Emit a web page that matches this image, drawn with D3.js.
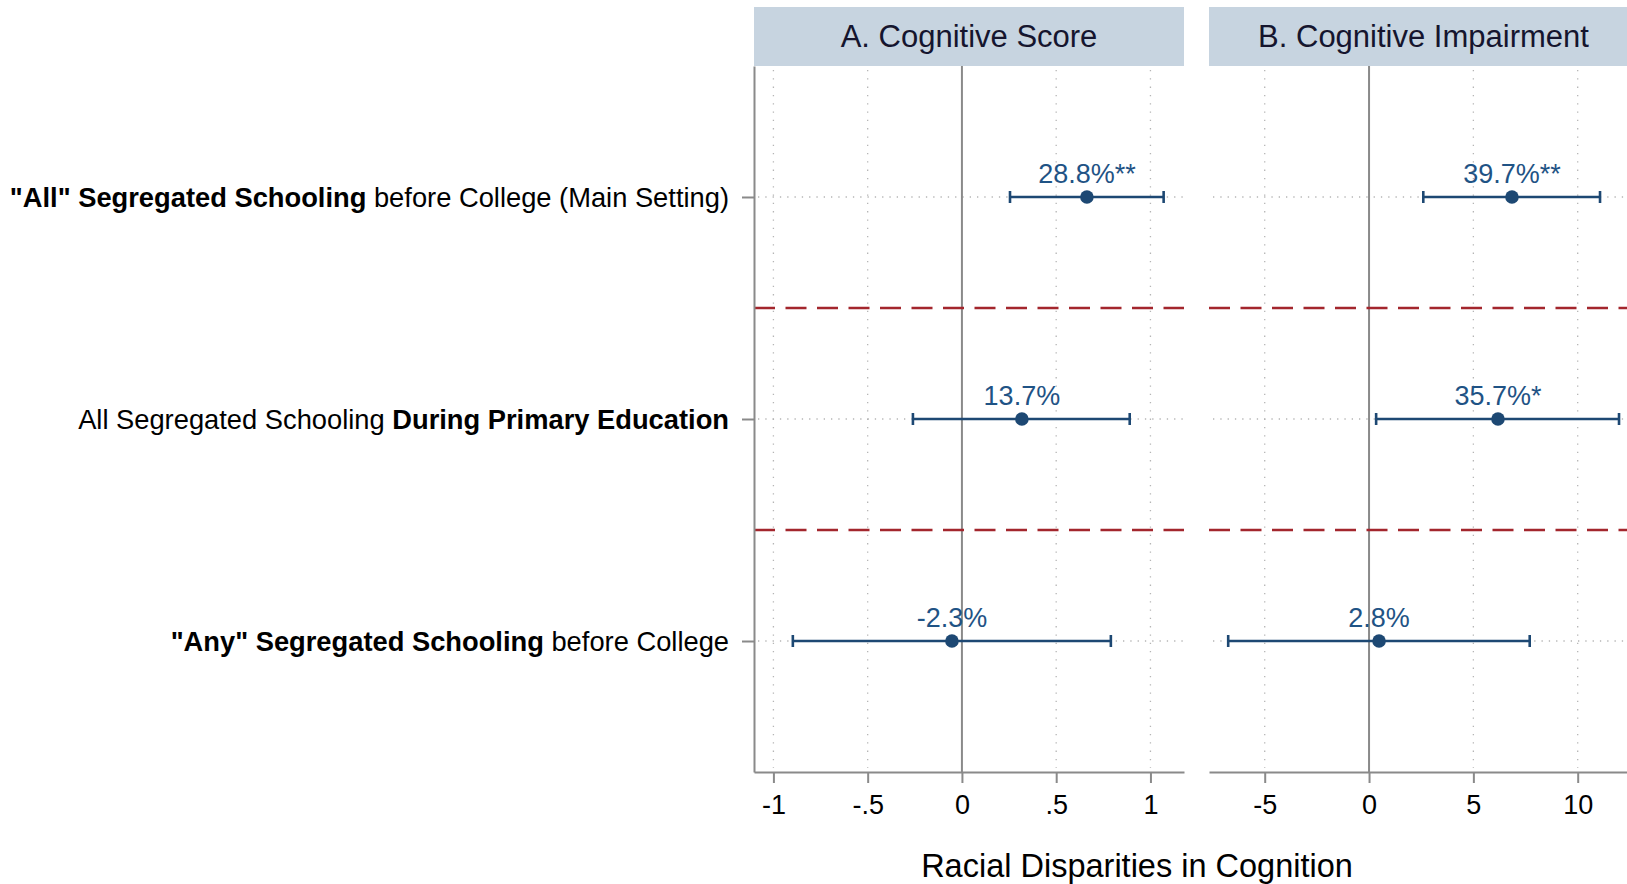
<!DOCTYPE html>
<html>
<head>
<meta charset="utf-8">
<script src="https://cdn.jsdelivr.net/npm/d3@7"></script>
<style>
    body { margin: 0; background: #fff; }
    text { font-family: "Liberation Sans", Arial, sans-serif; }
</style>
</head>
<body>
<div id="chart"></div>
<script>
// row labels, split into bold / regular pieces
const rowLabels = [
    [["\"All\" Segregated Schooling", true], [" before College (Main Setting)", false]],
    [["All Segregated Schooling ", false], ["During Primary Education", true]],
    [["\"Any\" Segregated Schooling", true], [" before College", false]]
];
const rowIndex = [1, 2, 3];

// panel A: cognitive score
const scoreEst = [0.663, 0.318, -0.053];
const scoreLo = [0.255, -0.26, -0.897];
const scoreHi = [1.07, 0.89, 0.79];
const scoreLabels = ["28.8%**", "13.7%", "-2.3%"];
const scoreTicks = [-1, -0.5, 0, 0.5, 1];
const scoreTickLabels = ["-1", "-.5", "0", ".5", "1"];

// panel B: cognitive impairment
const impEst = [6.85, 6.18, 0.48];
const impLo = [2.6, 0.34, -6.75];
const impHi = [11.07, 11.98, 7.7];
const impLabels = ["39.7%**", "35.7%*", "2.8%"];
const impTicks = [-5, 0, 5, 10];
const impTickLabels = ["-5", "0", "5", "10"];

const panelTitles = ["A. Cognitive Score", "B. Cognitive Impairment"];
const xTitle = "Racial Disparities in Cognition";

const width = 1627, height = 884;
const plotTop = 66, plotBottom = 772;
const markColor = "#1d4873";
const axisGray = "#8a8a8a";

const svg = d3.select("#chart").append("svg")
    .attr("width", width)
    .attr("height", height);

const y = d3.scaleLinear().domain([0.41, 3.59]).range([plotTop, plotBottom]);

const panels = [
    {title: panelTitles[0], left: 754, right: 1184, domain: [-1.103, 1.178],
        est: scoreEst, lo: scoreLo, hi: scoreHi, labels: scoreLabels,
        ticks: scoreTicks, tickLabels: scoreTickLabels, leftAxis: true},
    {title: panelTitles[1], left: 1209, right: 1638, domain: [-7.67, 12.89],
        est: impEst, lo: impLo, hi: impHi, labels: impLabels,
        ticks: impTicks, tickLabels: impTickLabels, leftAxis: false}
];

panels.forEach(function (p) {
    const x = d3.scaleLinear().domain(p.domain).range([p.left, p.right]);
    const g = svg.append("g");

    // header strip
    g.append("rect")
        .attr("x", p.left).attr("y", 7)
        .attr("width", p.right - p.left).attr("height", plotTop - 7)
        .attr("fill", "#c7d4e0");
    g.append("text")
        .attr("x", (p.left + p.right) / 2).attr("y", 47)
        .attr("text-anchor", "middle")
        .attr("font-size", 31)
        .attr("fill", "#15152e")
        .text(p.title);

    // vertical dotted grid (not at zero)
    g.selectAll(".vgrid")
        .data(p.ticks.filter(function (d) { return d !== 0; }))
        .enter().append("line")
        .attr("x1", function (d) { return x(d); })
        .attr("x2", function (d) { return x(d); })
        .attr("y1", plotTop + 4).attr("y2", plotBottom - 4)
        .attr("stroke", "#b5b5b5")
        .attr("stroke-width", 1.3)
        .attr("stroke-dasharray", "1.3,7");

    // horizontal dotted grid at each row
    g.selectAll(".hgrid")
        .data(rowIndex)
        .enter().append("line")
        .attr("x1", p.left + 4).attr("x2", p.right)
        .attr("y1", function (d) { return y(d); })
        .attr("y2", function (d) { return y(d); })
        .attr("stroke", "#b5b5b5")
        .attr("stroke-width", 1.3)
        .attr("stroke-dasharray", "1.3,6");

    // zero line
    g.append("line")
        .attr("x1", x(0)).attr("x2", x(0))
        .attr("y1", plotTop).attr("y2", plotBottom)
        .attr("stroke", axisGray)
        .attr("stroke-width", 2);

    // red dashed separators between rows
    g.selectAll(".sep")
        .data([1.5, 2.5])
        .enter().append("line")
        .attr("x1", p.left).attr("x2", p.right)
        .attr("y1", function (d) { return y(d); })
        .attr("y2", function (d) { return y(d); })
        .attr("stroke", "#a3262d")
        .attr("stroke-width", 2.5)
        .attr("stroke-dasharray", "21,10.5");

    // bottom axis
    const xAxis = d3.axisBottom(x)
        .tickValues(p.ticks)
        .tickFormat(function (d, i) { return p.tickLabels[i]; })
        .tickSizeInner(11)
        .tickSizeOuter(0)
        .tickPadding(12);
    const ax = g.append("g")
        .attr("transform", "translate(0," + plotBottom + ")")
        .call(xAxis);
    ax.select(".domain").attr("stroke", axisGray).attr("stroke-width", 2);
    ax.selectAll(".tick line").attr("stroke", axisGray).attr("stroke-width", 2);
    ax.selectAll(".tick text")
        .attr("font-size", 27)
        .attr("fill", "#000")
        .style("font-family", "Liberation Sans, Arial, sans-serif");

    // left axis only on first panel
    if (p.leftAxis) {
        const yAxis = d3.axisLeft(y)
            .tickValues(rowIndex)
            .tickFormat("")
            .tickSizeInner(12)
            .tickSizeOuter(0);
        const ay = g.append("g")
            .attr("transform", "translate(" + p.left + ",0)")
            .call(yAxis);
        ay.select(".domain").attr("stroke", axisGray).attr("stroke-width", 2);
        ay.selectAll(".tick line").attr("stroke", axisGray).attr("stroke-width", 2);

        const lab = g.selectAll(".rowlab")
            .data(rowLabels)
            .enter().append("text")
            .attr("x", p.left - 25)
            .attr("y", function (d, i) { return y(rowIndex[i]) + 10; })
            .attr("text-anchor", "end")
            .attr("font-size", 27.3)
            .attr("fill", "#000");
        lab.selectAll("tspan")
            .data(function (d) { return d; })
            .enter().append("tspan")
            .attr("font-weight", function (d) { return d[1] ? "bold" : "normal"; })
            .text(function (d) { return d[0]; });
    }

    // confidence intervals
    const ci = g.selectAll(".ci")
        .data(rowIndex)
        .enter().append("g");
    ci.append("line")
        .attr("x1", function (d, i) { return x(p.lo[i]); })
        .attr("x2", function (d, i) { return x(p.hi[i]); })
        .attr("y1", function (d) { return y(d); })
        .attr("y2", function (d) { return y(d); })
        .attr("stroke", markColor)
        .attr("stroke-width", 2.6);
    [p.lo, p.hi].forEach(function (arr) {
        ci.append("line")
            .attr("x1", function (d, i) { return x(arr[i]); })
            .attr("x2", function (d, i) { return x(arr[i]); })
            .attr("y1", function (d) { return y(d) - 6; })
            .attr("y2", function (d) { return y(d) + 6; })
            .attr("stroke", markColor)
            .attr("stroke-width", 2.6);
    });
    ci.append("circle")
        .attr("cx", function (d, i) { return x(p.est[i]); })
        .attr("cy", function (d) { return y(d); })
        .attr("r", 6.8)
        .attr("fill", markColor);
    ci.append("text")
        .attr("x", function (d, i) { return x(p.est[i]); })
        .attr("y", function (d) { return y(d) - 14; })
        .attr("text-anchor", "middle")
        .attr("font-size", 27)
        .attr("fill", "#1f5385")
        .text(function (d, i) { return p.labels[i]; });
});

// shared x title
svg.append("text")
    .attr("x", 1137).attr("y", 877)
    .attr("text-anchor", "middle")
    .attr("font-size", 32.5)
    .attr("fill", "#000")
    .text(xTitle);
</script>
</body>
</html>
